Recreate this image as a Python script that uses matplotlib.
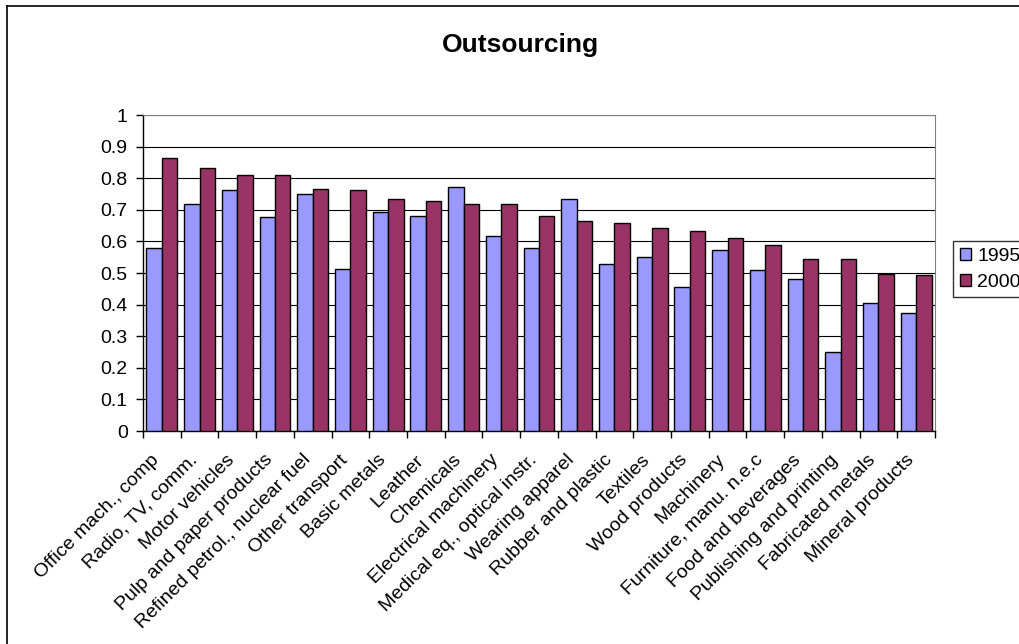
import numpy as np
import matplotlib.pyplot as plt
import matplotlib.transforms as mtransforms
from matplotlib.patches import Rectangle
from matplotlib.lines import Line2D

plt.rcParams['font.family'] = ['Liberation Sans', 'DejaVu Sans']

categories = ['Office mach., comp', 'Radio, TV, comm.', 'Motor vehicles',
              'Pulp and paper products', 'Refined petrol., nuclear fuel',
              'Other transport', 'Basic metals', 'Leather', 'Chemicals',
              'Electrical machinery', 'Medical eq., optical instr.',
              'Wearing apparel', 'Rubber and plastic', 'Textiles',
              'Wood products', 'Machinery', 'Furniture, manu. n.e.c',
              'Food and beverages', 'Publishing and printing',
              'Fabricated metals', 'Mineral products']
vals_1995 = [0.579, 0.718, 0.762, 0.676, 0.750, 0.513, 0.692, 0.680, 0.772,
             0.616, 0.579, 0.734, 0.530, 0.552, 0.455, 0.573, 0.508, 0.481,
             0.250, 0.406, 0.374]
vals_2000 = [0.863, 0.831, 0.809, 0.809, 0.766, 0.762, 0.734, 0.729, 0.718,
             0.718, 0.680, 0.665, 0.658, 0.643, 0.632, 0.611, 0.589, 0.545,
             0.545, 0.498, 0.493]
series_names = ['1995', '2000']
col_1995 = '#9999FF'
col_2000 = '#993366'

W, H = 1019, 644
fig = plt.figure(figsize=(W / 100, H / 100), dpi=100)
ax = fig.add_axes([143 / W, 1 - 431 / H, (935 - 143) / W, (431 - 115) / H])

x = np.arange(len(categories))
bw = 0.41
ax.bar(x - bw / 2, vals_1995, bw, color=col_1995, edgecolor='black',
       linewidth=1.0, label=series_names[0], zorder=3)
ax.bar(x + bw / 2, vals_2000, bw, color=col_2000, edgecolor='black',
       linewidth=1.0, label=series_names[1], zorder=3)

ax.set_xlim(-0.5, len(categories) - 0.5)
ax.set_ylim(0, 1)
ax.set_yticks(np.arange(0, 1.01, 0.1))
ax.set_yticklabels(['0'] + ['%.1f' % v for v in np.arange(0.1, 0.95, 0.1)] + ['1'],
                   fontsize=14)
ax.yaxis.grid(True, color='black', linewidth=0.8, zorder=0)
ax.set_axisbelow(True)

# category labels at centers, tick marks at boundaries (Excel style)
ax.set_xticks(x)
ax.set_xticklabels(categories, rotation=45, ha='right', va='center',
                   rotation_mode='anchor', fontsize=14)
ax.tick_params(axis='x', which='major', length=0, pad=19)
shift = mtransforms.ScaledTranslation(-5 / 100, 0, fig.dpi_scale_trans)
for lbl in ax.get_xticklabels():
    lbl.set_transform(lbl.get_transform() + shift)
ax.set_xticks(np.arange(-0.5, len(categories), 1), minor=True)
ax.tick_params(axis='x', which='minor', length=5, width=1, direction='out')
ax.tick_params(axis='y', length=5, width=1, direction='out', pad=6)

for s in ['top', 'right']:
    ax.spines[s].set_color('#808080')
for s in ['left', 'bottom']:
    ax.spines[s].set_color('black')
    ax.spines[s].set_linewidth(1.0)

fig.text(520 / W, 1 - 45 / H, 'Outsourcing', ha='center', va='center',
         fontsize=19, fontweight='bold')

handles = [Rectangle((0, 0), 1, 1, facecolor=col_1995, edgecolor='black'),
           Rectangle((0, 0), 1, 1, facecolor=col_2000, edgecolor='black')]
leg = fig.legend(handles, series_names, loc='upper left',
                 bbox_to_anchor=(953 / W, 1 - 241 / H), borderaxespad=0,
                 fontsize=14, frameon=True, fancybox=False,
                 handlelength=0.55, handleheight=0.55, handletextpad=0.35,
                 borderpad=0.35, labelspacing=0.45)
leg.get_frame().set_edgecolor('black')
leg.get_frame().set_linewidth(1.0)

# chart area border (left and top visible)
fig.add_artist(Line2D([7 / W, 7 / W], [0, 1 - 6 / H], color='black', lw=1.2))
fig.add_artist(Line2D([7 / W, 1], [1 - 6 / H, 1 - 6 / H], color='black', lw=1.2))

fig.savefig('out.png', dpi=100)
